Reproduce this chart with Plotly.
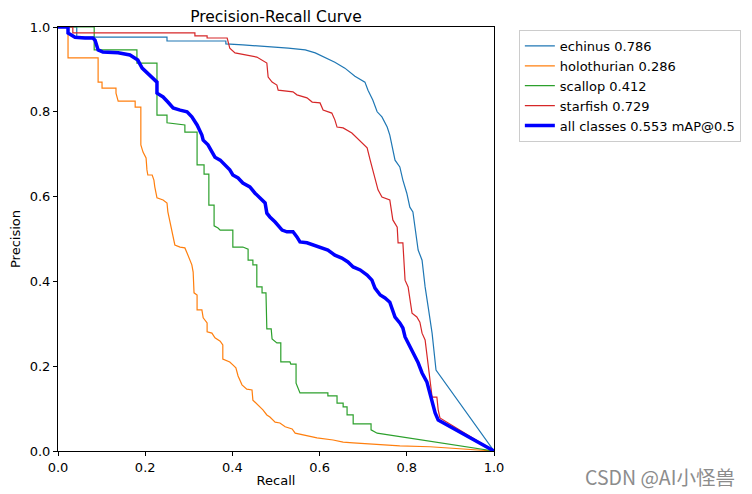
import plotly.graph_objects as go

# ---- data (recall, precision) ----
echinus_r = [0.0, 0.043, 0.043, 0.25, 0.25, 0.385, 0.385, 0.424, 0.528, 0.567, 0.59, 0.612, 0.635, 0.658,
             0.681, 0.704, 0.711, 0.722, 0.732, 0.743, 0.755, 0.761, 0.773, 0.784, 0.791, 0.80, 0.807, 0.814,
             0.826, 0.835, 0.842, 0.849, 0.858, 0.867, 1.0]
echinus_p = [1.0, 1.0, 0.976, 0.976, 0.967, 0.967, 0.96, 0.958, 0.95, 0.946, 0.939, 0.929, 0.917, 0.903,
             0.884, 0.87, 0.851, 0.828, 0.80, 0.788, 0.764, 0.745, 0.686, 0.67, 0.639, 0.608, 0.575, 0.564,
             0.474, 0.45, 0.387, 0.34, 0.278, 0.191, 0.0]

holo_r = [0.0, 0.023, 0.023, 0.092, 0.092, 0.101, 0.101, 0.133, 0.133, 0.138, 0.177, 0.177, 0.19, 0.19,
          0.195, 0.202, 0.204, 0.206, 0.216, 0.22, 0.222, 0.227, 0.241, 0.25, 0.252, 0.257, 0.264, 0.268,
          0.28, 0.291, 0.296, 0.30, 0.307, 0.31, 0.312, 0.319, 0.319, 0.33, 0.333, 0.342, 0.342, 0.353,
          0.36, 0.372, 0.378, 0.378, 0.394, 0.401, 0.408, 0.413, 0.422, 0.433, 0.445, 0.447, 0.459, 0.47,
          0.479, 0.486, 0.498, 0.509, 0.521, 0.537, 0.544, 0.562, 0.594, 0.631, 0.654, 0.677, 0.739, 0.784,
          0.853, 1.0]
holo_p = [1.0, 1.0, 0.927, 0.927, 0.87, 0.87, 0.856, 0.856, 0.844, 0.825, 0.825, 0.811, 0.811, 0.722,
          0.705, 0.691, 0.663, 0.651, 0.651, 0.639, 0.623, 0.597, 0.592, 0.585, 0.564, 0.538, 0.505, 0.486,
          0.481, 0.479, 0.467, 0.458, 0.439, 0.422, 0.373, 0.368, 0.333, 0.333, 0.314, 0.302, 0.281, 0.278,
          0.267, 0.259, 0.25, 0.217, 0.21, 0.203, 0.196, 0.177, 0.156, 0.146, 0.144, 0.12, 0.108, 0.097,
          0.085, 0.08, 0.068, 0.066, 0.057, 0.052, 0.042, 0.038, 0.031, 0.026, 0.021, 0.019, 0.014, 0.012,
          0.01, 0.0]

scallop_r = [0.0, 0.083, 0.083, 0.181, 0.181, 0.227, 0.227, 0.25, 0.25, 0.291, 0.291, 0.319, 0.319, 0.335,
             0.335, 0.346, 0.346, 0.358, 0.358, 0.367, 0.372, 0.401, 0.401, 0.424, 0.436, 0.436, 0.447, 0.447,
             0.456, 0.456, 0.468, 0.468, 0.477, 0.479, 0.489, 0.491, 0.502, 0.511, 0.511, 0.532, 0.534, 0.546,
             0.546, 0.555, 0.619, 0.619, 0.64, 0.64, 0.654, 0.654, 0.663, 0.663, 0.677, 0.677, 0.718, 0.718,
             0.732, 1.0]
scallop_p = [1.0, 1.0, 0.946, 0.946, 0.915, 0.915, 0.792, 0.792, 0.774, 0.769, 0.752, 0.752, 0.675, 0.675,
             0.653, 0.653, 0.58, 0.58, 0.531, 0.526, 0.521, 0.521, 0.481, 0.481, 0.476, 0.45, 0.45, 0.439,
             0.439, 0.387, 0.387, 0.373, 0.373, 0.288, 0.288, 0.264, 0.255, 0.255, 0.21, 0.21, 0.205, 0.205,
             0.16, 0.137, 0.137, 0.13, 0.13, 0.113, 0.113, 0.104, 0.104, 0.085, 0.085, 0.064, 0.064, 0.05,
             0.042, 0.0]

star_r = [0.0, 0.034, 0.034, 0.314, 0.314, 0.342, 0.342, 0.388, 0.394, 0.406, 0.456, 0.468, 0.479, 0.482,
          0.491, 0.502, 0.505, 0.539, 0.548, 0.571, 0.583, 0.601, 0.608, 0.628, 0.635, 0.64, 0.654, 0.674,
          0.686, 0.697, 0.709, 0.716, 0.722, 0.727, 0.734, 0.743, 0.761, 0.768, 0.778, 0.78, 0.791, 0.796,
          0.803, 0.812, 0.823, 0.83, 0.835, 0.842, 0.846, 0.853, 0.858, 0.869, 0.872, 0.876, 1.0]
star_p = [1.0, 1.0, 0.986, 0.986, 0.979, 0.979, 0.974, 0.974, 0.95, 0.939, 0.929, 0.922, 0.915, 0.882,
          0.87, 0.863, 0.851, 0.847, 0.84, 0.833, 0.823, 0.821, 0.804, 0.797, 0.781, 0.764, 0.762, 0.75,
          0.738, 0.726, 0.715, 0.686, 0.663, 0.646, 0.616, 0.599, 0.592, 0.545, 0.528, 0.491, 0.491, 0.403,
          0.387, 0.325, 0.316, 0.304, 0.278, 0.262, 0.231, 0.167, 0.127, 0.127, 0.097, 0.078, 0.0]

all_r = [0.0, 0.023, 0.023, 0.039, 0.062, 0.08, 0.085, 0.089, 0.092, 0.103, 0.135, 0.138, 0.165, 0.183,
         0.193, 0.204, 0.218, 0.227, 0.227, 0.241, 0.252, 0.264, 0.28, 0.296, 0.307, 0.319, 0.33, 0.333,
         0.344, 0.353, 0.36, 0.372, 0.383, 0.394, 0.401, 0.413, 0.424, 0.44, 0.452, 0.463, 0.475, 0.479,
         0.486, 0.498, 0.509, 0.514, 0.525, 0.539, 0.548, 0.555, 0.571, 0.585, 0.601, 0.619, 0.635, 0.651,
         0.665, 0.677, 0.693, 0.709, 0.72, 0.727, 0.739, 0.75, 0.761, 0.766, 0.773, 0.784, 0.791, 0.796,
         0.803, 0.812, 0.819, 0.826, 0.835, 0.846, 0.851, 0.858, 0.865, 0.872, 1.0]
all_p = [1.0, 1.0, 0.986, 0.976, 0.974, 0.974, 0.969, 0.958, 0.946, 0.941, 0.941, 0.939, 0.934, 0.922,
         0.903, 0.892, 0.88, 0.87, 0.844, 0.835, 0.823, 0.809, 0.804, 0.80, 0.788, 0.769, 0.745, 0.733,
         0.722, 0.705, 0.693, 0.686, 0.675, 0.663, 0.651, 0.644, 0.632, 0.623, 0.608, 0.597, 0.585, 0.561,
         0.552, 0.54, 0.528, 0.521, 0.517, 0.517, 0.505, 0.493, 0.491, 0.486, 0.481, 0.474, 0.462, 0.455,
         0.446, 0.434, 0.427, 0.415, 0.403, 0.384, 0.368, 0.361, 0.351, 0.337, 0.316, 0.302, 0.29, 0.269,
         0.255, 0.238, 0.222, 0.208, 0.184, 0.163, 0.144, 0.113, 0.09, 0.073, 0.0]

names = ["echinus 0.786", "holothurian 0.286", "scallop 0.412", "starfish 0.729", "all classes 0.553 mAP@0.5"]
colors = ["#1f77b4", "#ff7f0e", "#2ca02c", "#d62728", "#0000ff"]
series = [(echinus_r, echinus_p), (holo_r, holo_p), (scallop_r, scallop_p), (star_r, star_p), (all_r, all_p)]
widths = [1.2, 1.2, 1.2, 1.2, 3.5]
tick_vals = [0.0, 0.2, 0.4, 0.6, 0.8, 1.0]
tick_text = ["0.0", "0.2", "0.4", "0.6", "0.8", "1.0"]

FONT = "DejaVu Sans"
W, H = 744, 486  # page body has an 8px margin in the 752x494 window

fig = go.Figure()
for (r, p), n, c, w in zip(series, names, colors, widths):
    fig.add_trace(go.Scatter(x=r, y=p, mode="lines", name=n, line=dict(color=c, width=w)))

axis_common = dict(range=[0, 1], showline=True, linecolor="black", linewidth=1, mirror=True,
                   ticks="outside", ticklen=4, tickwidth=1, tickcolor="black", showgrid=False,
                   zeroline=False, tickvals=tick_vals, ticktext=tick_text,
                   tickfont=dict(family=FONT, size=13, color="black"))

fig.update_layout(
    width=W, height=H,
    margin=dict(l=50, r=258, t=19, b=43, autoexpand=False),
    paper_bgcolor="white", plot_bgcolor="white",
    font=dict(family=FONT, color="black"),
    title=dict(text="Precision-Recall Curve", x=0.5, xref="paper", xanchor="center",
               y=1 - 3 / H, yanchor="top", pad=dict(t=0, b=0),
               font=dict(family=FONT, size=15.5, color="black")),
    xaxis=dict(**axis_common, title=dict(text="Recall", font=dict(family=FONT, size=13), standoff=2)),
    yaxis=dict(**axis_common, title=dict(text="Precision", font=dict(family=FONT, size=13), standoff=6)),
    legend=dict(x=1.057, y=0.993, xanchor="left", yanchor="top", bgcolor="white",
                bordercolor="#cccccc", borderwidth=1, font=dict(family=FONT, size=13, color="black"),
                tracegroupgap=0, itemwidth=30),
    showlegend=True,
)

fig.add_annotation(text="CSDN @AI小怪兽", xref="paper", yref="paper", x=1.381, y=-0.061,
                   xanchor="center", yanchor="middle", showarrow=False,
                   font=dict(family="Noto Sans CJK SC", size=19.5, color="#8c8c8c"))

fig.write_html("out.html")
